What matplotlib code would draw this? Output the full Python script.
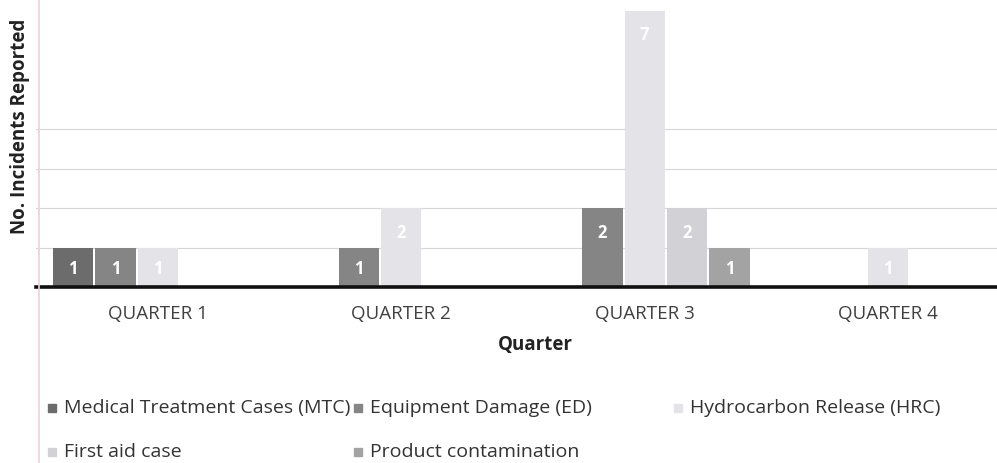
import numpy as np
import matplotlib.pyplot as plt
from matplotlib.lines import Line2D

plt.rcParams['font.family'] = ['Open Sans', 'DejaVu Sans']

quarters = ['QUARTER 1', 'QUARTER 2', 'QUARTER 3', 'QUARTER 4']
series = ['Medical Treatment Cases (MTC)', 'Equipment Damage (ED)',
          'Hydrocarbon Release (HRC)', 'First aid case', 'Product contamination']
mtc = [1, 0, 0, 0]
ed = [1, 1, 2, 0]
hrc = [1, 2, 7, 1]
first_aid = [0, 0, 2, 0]
product = [0, 0, 1, 0]
values = [mtc, ed, hrc, first_aid, product]
colors = ['#6c6c6c', '#858585', '#e3e3e8', '#d2d2d6', '#a3a3a3']

W, H = 997, 463
fig = plt.figure(figsize=(W / 100, H / 100), dpi=100)
ax = fig.add_axes([36 / W, (H - 287) / H, 974 / W, 287 / H])

x = np.arange(len(quarters))
slot = 0.174
bw = 0.166
for i, (vals, c) in enumerate(zip(values, colors)):
    pos = x + (i - 2) * slot
    for p, v in zip(pos, vals):
        if v == 0:
            continue
        ax.bar(p, v, width=bw, color=c, zorder=2)
        ax.text(p, v - 0.62 if v > 1 else v / 2 - 0.04, str(v), ha='center', va='center',
                color='white', fontsize=12, fontweight='bold', zorder=3)

ax.set_xlim(-0.5, 3.5)
ax.set_ylim(0, 7.27)
ax.set_yticks(range(1, 5))
ax.yaxis.grid(True, color='#d6d6d6', linewidth=0.8, zorder=0)
ax.tick_params(axis='y', left=False, labelleft=False)
ax.set_xticks(x)
ax.set_xticklabels(quarters, fontsize=13.5, color='#404040')
ax.tick_params(axis='x', length=0, pad=13)
for s in ['top', 'right', 'left']:
    ax.spines[s].set_visible(False)
ax.spines['bottom'].set_linewidth(2.6)
ax.spines['bottom'].set_color('#111111')

fig.text(535 / W, 1 - 345 / H, 'Quarter', ha='center', va='center',
         fontsize=13.5, fontweight='bold', color='#222222')
fig.text(20 / W, 1 - 126 / H, 'No. Incidents Reported', ha='center', va='center',
         rotation=90, fontsize=13.5, fontweight='bold', color='#222222')

# margin line on the left side of the page
fig.add_artist(Line2D([39 / W, 39 / W], [0, 1], color='#f0d0de', linewidth=1.2))

# legend entries laid out in two rows
legend_pos = [(52, 408), (358, 408), (678, 408), (52, 452), (358, 452)]
for (lx, ly), name, c in zip(legend_pos, series, colors):
    fig.add_artist(Line2D([lx / W], [1 - ly / H], marker='s', markersize=6,
                          color=c, linestyle='none'))
    fig.text((lx + 12) / W, 1 - ly / H, name, ha='left', va='center',
             fontsize=14, color='#333333')

fig.savefig('out.png', dpi=100, facecolor='white')
